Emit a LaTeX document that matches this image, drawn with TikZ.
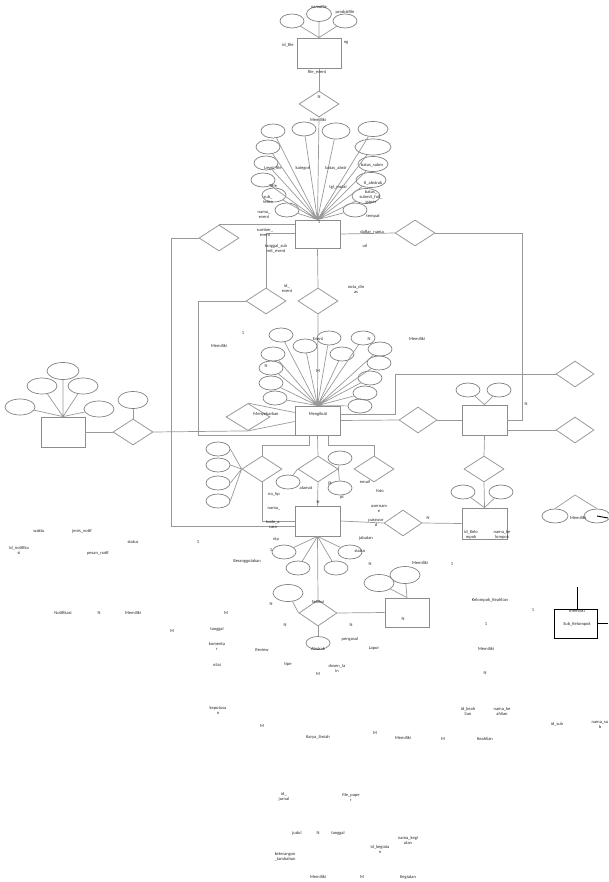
\documentclass[tikz,border=0pt]{standalone}
\usepackage{fontspec}
\setmainfont{Carlito}
\usetikzlibrary{shapes.geometric, positioning}

\begin{document}
\begin{tikzpicture}[x=1pt, y=-1pt,
  ent/.style={draw=black!45, line width=0.8pt, minimum width=45pt, minimum height=29pt, inner sep=0pt},
  rel/.style={diamond, draw=black!40, line width=0.8pt, minimum width=40pt, minimum height=26pt, inner sep=0pt},
  att/.style={ellipse, draw=black!50, line width=0.7pt, minimum width=24pt, minimum height=14pt, inner sep=0pt},
  lbl/.style={font=\fontsize{4.5}{5}\selectfont, align=center, inner sep=0pt, text=black!85},
  ln/.style={draw=black!40, line width=0.7pt},
  blk/.style={draw=black, line width=0.9pt}]
\useasboundingbox (0,0) rectangle (608,882);

% file
\node (fl) at (319,53) [ent, minimum width=44pt, minimum height=30pt] {};
\node (fl1) at (292,21) [att] {};
\node (fl2) at (319,14) [att, minimum width=25pt, minimum height=15pt] {};
\node (fl3) at (345,21) [att] {};
\draw [ln] (fl1) -- (fl.north) (fl2) -- (fl.north) (fl3) -- (fl.north);
\node (dfl) at (319,104) [rel] {};
\draw [ln] (fl.south) -- (dfl.north);

% event
\node (ev) at (317.5,234) [ent, minimum height=28pt] {};
\draw [ln] (dfl.south) -- (ev.north);
\node (e1) at (273,131) [att] {};
\node (e2) at (304,129) [att] {};
\node (e3) at (336,131) [att, minimum width=28pt, minimum height=16pt] {};
\node (e4) at (373,129) [att, minimum width=30pt, minimum height=15pt] {};
\node (e5) at (268,147) [att] {};
\node (e6) at (373,147) [att, minimum width=36pt, minimum height=16pt] {};
\node (e7) at (266,163) [att] {};
\node (e8) at (373,164) [att, minimum width=30pt, minimum height=15pt] {};
\node (e9) at (263,180) [att] {};
\node (e10) at (371,180) [att, minimum width=30pt, minimum height=15pt] {};
\node (e11) at (274,195) [att] {};
\node (e12) at (366,196) [att, minimum width=28pt, minimum height=15pt] {};
\node (e13) at (287,210) [att] {};
\node (e14) at (355,210) [att] {};
\draw [ln] (e1) -- (ev.north) (e2) -- (ev.north) (e3) -- (ev.north) (e4) -- (ev.north)
  (e5) -- (ev.north) (e6) -- (ev.north) (e7) -- (ev.north) (e8) -- (ev.north)
  (e9) -- (ev.north) (e10) -- (ev.north) (e11) -- (ev.north) (e12) -- (ev.north)
  (e13) -- (ev.north) (e14) -- (ev.north);

% relasi sekitar event
\node (dl1) at (219,238) [rel] {};
\node (dl2) at (266,301) [rel] {};
\node (dev) at (318,301) [rel] {};
\node (dr1) at (415,233) [rel] {};
\draw [ln] (dl1.north) -- (ev.west |- dl1.north);
\draw [ln] (dl2.north) |- ([yshift=1pt]ev.west);
\draw [ln] (ev.south) -- (dev.north);
\draw [ln] (ev.east) -- (dr1.west);

% mengikuti
\node (mk) at (317.5,420.5) [ent] {};
\draw [ln] (dev.south) -- (mk.north);
\node (m1) at (281,335) [att] {};
\node (m2) at (305,346) [att] {};
\node (m3) at (329,338) [att] {};
\node (m4) at (363,338) [att] {};
\node (m5) at (273,354) [att] {};
\node (m6) at (342,354) [att] {};
\node (m7) at (380,349) [att] {};
\node (m8) at (271,368) [att] {};
\node (m9) at (379,363) [att] {};
\node (m10) at (271,383) [att] {};
\node (m11) at (370,378) [att] {};
\node (m12) at (275,398) [att] {};
\node (m13) at (365,393) [att] {};
\node (m14) at (360,406) [att] {};
\draw [ln] (m1) -- (mk.north) (m2) -- (mk.north) (m3) -- (mk.north) (m4) -- (mk.north)
  (m5) -- (mk.north) (m6) -- (mk.north) (m7) -- (mk.north) (m8) -- (mk.north)
  (m9) -- (mk.north) (m10) -- (mk.north) (m11) -- (mk.north) (m12) -- (mk.north)
  (m13) -- (mk.north) (m14) -- (mk.north);
\draw [ln] (dl2.west) -- ++(-47,0) |- (mk.south west);
\node (dmy) at (248,417) [rel, minimum width=44pt, minimum height=27pt] {};
\draw [ln] (dmy.north) -- ([yshift=8pt]mk.west);
\draw [ln] (dmy.south) -- ([yshift=-1pt]mk.west);

% entitas kiri
\node (ag) at (63,432) [ent, minimum width=44pt, minimum height=30pt] {};
\node (a1) at (63,371) [att, minimum width=32pt, minimum height=17pt] {};
\node (a2) at (42,386) [att, minimum width=30pt, minimum height=16pt] {};
\node (a3) at (83,386) [att, minimum width=30pt, minimum height=16pt] {};
\node (a4) at (20,407) [att, minimum width=30pt, minimum height=16pt] {};
\node (a5) at (99,409) [att, minimum width=30pt, minimum height=16pt] {};
\draw [ln] (a1) -- (ag.north) (a2) -- (ag.north) (a3) -- (ag.north) (a4) -- (ag.north) (a5) -- (ag.north);
\node (dag) at (133,432) [rel] {};
\node (dag1) at (133,400) [att, minimum width=30pt, minimum height=17pt] {};
\draw [ln] (dag1) -- (dag.north);
\draw [ln] (ag.east) -- (dag.west);
\draw [ln] (dag.east) -- (dmy.south);

% peserta
\node (ps) at (317.5,521) [ent, minimum height=30pt] {};
\draw [ln] (dl1.west) -- ++(-27,0) |- ([yshift=-5pt]ps.west);
\node (dp1) at (262,469) [rel] {};
\node (dp2) at (318,469) [rel] {};
\node (dp3) at (374,469) [rel] {};
\draw [ln] ([xshift=-8.5pt]mk.south) -- ++(0,10) -| (dp1.north);
\draw [ln] (mk.south) -- (dp2.north);
\draw [ln] ([xshift=10.5pt]mk.south) -- ++(0,10) -| (dp3.north);
\node (q1) at (218,449) [att] {};
\node (q2) at (218,465) [att] {};
\node (q3) at (218,483) [att] {};
\node (q4) at (218,501) [att] {};
\draw [ln] (q1.east) -- (dp1.west) (q2.east) -- (dp1.west) (q3.east) -- (dp1.west) (q4.east) -- (dp1.west);
\draw [ln] (dp1.south) |- (ps.west);
\node (r1) at (288,482) [att] {};
\node (r2) at (340,458) [att] {};
\node (r3) at (340,488) [att] {};
\draw [ln] (r1) -- (dp2.west) (r2) -- (dp2.east) (r3) -- (dp2.east);
\draw [ln] (dp2.south) -- (ps.north);
\node (p1) at (284,552) [att] {};
\node (p2) at (298,568) [att] {};
\node (p3) at (336,568) [att] {};
\node (p4) at (350,552) [att] {};
\draw [ln] (p1) -- (ps.south) (p2) -- (ps.south) (p3) -- (ps.south) (p4) -- (ps.south);

% kelompok
\node (kk) at (484.5,420) [ent, minimum height=30pt] {};
\node (k1) at (468,390) [att] {};
\node (k2) at (499,390) [att] {};
\draw [ln] (k1) -- (kk.north) (k2) -- (kk.north);
\draw [ln] (dr1.east) -| ([xshift=15pt]kk.east) -- (kk.east);
\node (dk1) at (418,420) [rel, minimum width=38pt] {};
\draw [ln] (mk.east) -- (dk1.west);
\draw [ln] (dk1.east) -- (kk.west);
\node (dr2) at (575,374) [rel, minimum width=38pt] {};
\node (dr3) at (575,430) [rel, minimum width=38pt] {};
\draw [ln] ([yshift=6pt]mk.east) -- ++(55,0) |- (dr2.west);
\draw [ln] ([yshift=-10pt]kk.east) -- (dr3.west);
\node (dkk) at (484,469) [rel] {};
\node (kl) at (484.5,523.5) [ent, minimum height=31pt] {};
\node (k3) at (463,492) [att] {};
\node (k4) at (501,492) [att] {};
\draw [ln] (k3) -- (kl.north) (k4) -- (kl.north);
\draw [ln] (kk.south) -- (dkk.north);
\draw [ln] (dkk.south) -- (kl.north);
\node (dp4) at (403,523) [rel, minimum width=38pt] {};
\draw [ln] (ps.east) -- (dp4.west);
\draw [ln] (dp4.east) -- (kl.west);

% sub kelompok
\coordinate (apx) at (575,495);
\node (s1) at (555,516) [att, minimum width=26pt] {};
\node (s2) at (597,516) [att, minimum width=26pt] {};
\draw [ln] (s1.north) -- (apx) -- (s2.north);
\coordinate (edge1) at (608,518);
\draw [blk] (s2.center) -- (edge1);
\node (sk) at (575.5,623.5) [draw=black, line width=0.9pt, minimum width=43pt, minimum height=29pt] {};
\coordinate (skt) at (577,587);
\coordinate (edge2) at (608,623.5);
\draw [blk] (skt) -- (skt |- sk.north);
\draw [blk] (sk.east) -- (edge2);

% seleksi
\node (dsl) at (318,613) [rel, minimum width=38pt] {};
\draw [ln] (ps.south) -- (dsl.north);
\node (dsl1) at (288,593) [att, minimum width=30pt, minimum height=17pt] {};
\node (dsl2) at (318,643) [att, minimum height=13pt] {};
\draw [ln] (dsl1) -- (dsl.west);
\draw [ln] (dsl.south) -- (dsl2);
\node (lp) at (407,612.5) [ent, minimum width=44pt] {};
\draw [ln] (dsl.east) -- (lp.west);
\node (l1) at (379,583) [att, minimum width=30pt, minimum height=17pt] {};
\node (l2) at (405,575) [att, minimum width=30pt, minimum height=17pt] {};
\draw [ln] (l1) -- (lp.north) (l2) -- (lp.north);

% teks
\node (t001) at (319,7) [lbl] {namafile};
\node (t002) at (345,12) [lbl] {produkfile};
\node (t003) at (288,45) [lbl] {id\_file};
\node (t004) at (346,43) [lbl] {ng};
\node (t005) at (317,72) [lbl] {file\_event};
\node (t006) at (319,97) [lbl] {N};
\node (t007) at (318,120) [lbl] {Memiliki};
\node (t008) at (273,168) [lbl] {Level\_file};
\node (t009) at (303,168) [lbl] {kategori};
\node (t010) at (336,168) [lbl] {batas\_abstr};
\node (t011) at (372,165) [lbl] {batas\_subm};
\node (t012) at (273,186) [lbl] {Title};
\node (t013) at (338,187) [lbl] {tgl\_mulai};
\node (t014) at (373,183) [lbl] {tl\_abstrak};
\node (t015) at (268,199) [lbl] {sub\_\\tema};
\node (t016) at (371,197) [lbl] {batas\_\\submit\_full\_\\paper};
\node (t017) at (264,215) [lbl] {nama\_\\event};
\node (t018) at (373,216) [lbl] {tempat};
\node (t019) at (319,222) [lbl] {1};
\node (t020) at (265,232) [lbl] {sumber\_\\event};
\node (t021) at (276,249) [lbl] {tanggal\_sub\\mit\_event};
\node (t022) at (372,232) [lbl] {daftar\_nama};
\node (t023) at (365,246) [lbl] {url};
\node (t024) at (287,288) [lbl] {id\_\\event};
\node (t025) at (356,289) [lbl] {nota\_din\\as};
\node (t026) at (243,333) [lbl] {1};
\node (t027) at (219,346) [lbl] {Memiliki};
\node (t028) at (318,339) [lbl] {Event};
\node (t029) at (369,339) [lbl] {N};
\node (t030) at (417,339) [lbl] {Memiliki};
\node (t031) at (266,366) [lbl] {N};
\node (t032) at (318,371) [lbl] {M};
\node (t033) at (266,414) [lbl] {Menyebarkan};
\node (t034) at (318,414) [lbl] {Mengikuti};
\node (t035) at (526,404) [lbl] {N};
\node (t036) at (306,488) [lbl] {alamat};
\node (t037) at (330,483) [lbl] {jk};
\node (t038) at (342,497) [lbl] {pt};
\node (t039) at (365,482) [lbl] {email};
\node (t040) at (380,491) [lbl] {foto};
\node (t041) at (274,494) [lbl] {no\_hp};
\node (t042) at (318,502) [lbl] {N};
\node (t043) at (274,509) [lbl] {nama\_};
\node (t044) at (379,509) [lbl] {usernam\\e};
\node (t045) at (273,524) [lbl] {kode\_a\\cara};
\node (t046) at (376,523) [lbl] {passwor\\d};
\node (t047) at (428,518) [lbl] {N};
\node (t048) at (471,535) [lbl] {id\_Kelo\\mpok};
\node (t049) at (502,535) [lbl] {nama\_ke\\lompok};
\node (t050) at (578,518) [lbl] {Memiliki};
\node (t051) at (366,538) [lbl] {jabatan};
\node (t052) at (276,539) [lbl] {nip};
\node (t053) at (271,550) [lbl] {1};
\node (t054) at (360,551) [lbl] {status};
\node (t055) at (247,561) [lbl] {Beranggotakan};
\node (t056) at (370,564) [lbl] {N};
\node (t057) at (420,563) [lbl] {Memiliki};
\node (t058) at (452,564) [lbl] {1};
\node (t059) at (39,531) [lbl] {waktu};
\node (t060) at (82,531) [lbl] {jenis\_notif};
\node (t061) at (133,542) [lbl] {status};
\node (t062) at (198,542) [lbl] {1};
\node (t063) at (19,550) [lbl] {id\_notifika\\si};
\node (t064) at (98,553) [lbl] {pesan\_notif};
\node (t065) at (490,600) [lbl] {Kelompok\_Keahlian};
\node (t066) at (318,602) [lbl] {Seleksi};
\node (t067) at (271,604) [lbl] {N};
\node (t068) at (533,610) [lbl] {1};
\node (t069) at (577,611) [lbl] {memiliki};
\node (t070) at (63,613) [lbl] {Notifikasi};
\node (t071) at (99,613) [lbl] {N};
\node (t072) at (133,613) [lbl] {Memiliki};
\node (t073) at (226,613) [lbl] {M};
\node (t074) at (403,619) [lbl] {N};
\node (t075) at (577,624) [lbl] {Sub\_Kelompok};
\node (t076) at (486,624) [lbl] {1};
\node (t077) at (285,625) [lbl] {N};
\node (t078) at (351,625) [lbl] {N};
\node (t079) at (217,629) [lbl] {tanggal};
\node (t080) at (172,631) [lbl] {M};
\node (t081) at (350,639) [lbl] {pengusul};
\node (t082) at (217,646) [lbl] {komenta\\r};
\node (t083) at (374,648) [lbl] {Lapor};
\node (t084) at (318,649) [lbl] {Abstrak};
\node (t085) at (486,649) [lbl] {Memiliki};
\node (t086) at (262,650) [lbl] {Review};
\node (t087) at (217,665) [lbl] {nilai};
\node (t088) at (288,664) [lbl] {tipe};
\node (t089) at (337,668) [lbl] {dosen\_la\\in};
\node (t090) at (485,673) [lbl] {N};
\node (t091) at (318,674) [lbl] {M};
\node (t092) at (218,710) [lbl] {keputusa\\n};
\node (t093) at (468,711) [lbl] {id\_keah\\lian};
\node (t094) at (502,711) [lbl] {nama\_ke\\ahlian};
\node (t095) at (557,724) [lbl] {id\_sub};
\node (t096) at (600,725) [lbl] {nama\_su\\b};
\node (t097) at (262,726) [lbl] {M};
\node (t098) at (375,733) [lbl] {M};
\node (t099) at (318,737) [lbl] {Karya\_Ilmiah};
\node (t100) at (403,738) [lbl] {Memiliki};
\node (t101) at (443,739) [lbl] {M};
\node (t102) at (485,739) [lbl] {Keahlian};
\node (t103) at (284,797) [lbl] {id\_\\jurnal};
\node (t104) at (351,797) [lbl] {file\_pape\\r};
\node (t105) at (297,833) [lbl] {judul};
\node (t106) at (318,833) [lbl] {N};
\node (t107) at (338,833) [lbl] {tanggal};
\node (t108) at (408,840) [lbl] {nama\_kegi\\atan};
\node (t109) at (380,849) [lbl] {id\_kegiata\\n};
\node (t110) at (285,857) [lbl] {keterangan\\\_tambahan};
\node (t111) at (318,877) [lbl] {Memiliki};
\node (t112) at (362,877) [lbl] {M};
\node (t113) at (408,877) [lbl] {Kegiatan};
\end{tikzpicture}
\end{document}
